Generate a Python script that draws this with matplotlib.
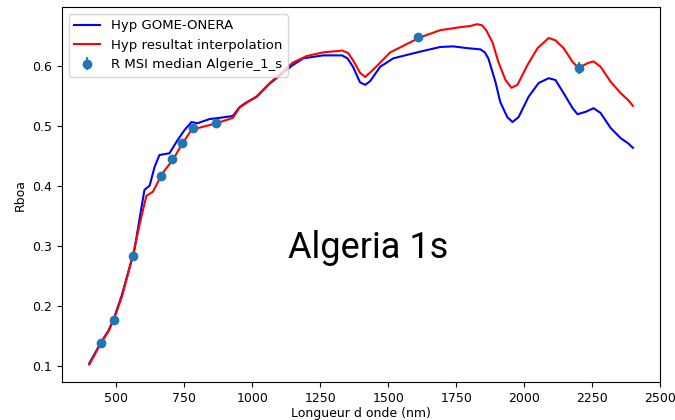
import matplotlib.pyplot as plt

# Hyp GOME-ONERA (blue)
gome_wl = [400, 443, 470, 490, 520, 566, 585, 603, 622, 640, 658, 695, 725, 751, 776, 798,
           843, 880, 928, 953, 979, 1016, 1064, 1149, 1187, 1260, 1330, 1350, 1370, 1396, 1415,
           1433, 1470, 1518, 1606, 1691, 1739, 1791, 1839, 1855, 1868, 1894, 1912, 1938, 1957,
           1979, 2016, 2053, 2090, 2115, 2145, 2178, 2196, 2226, 2255, 2281, 2318, 2355,
           2381, 2400]
gome_val = [0.104, 0.139, 0.158, 0.178, 0.218, 0.293, 0.345, 0.393, 0.400, 0.431, 0.451, 0.454,
            0.476, 0.493, 0.506, 0.504, 0.511, 0.513, 0.516, 0.531, 0.539, 0.548, 0.570,
            0.601, 0.612, 0.617, 0.617, 0.612, 0.598, 0.572, 0.568, 0.574, 0.598, 0.612, 0.622,
            0.631, 0.632, 0.629, 0.627, 0.622, 0.612, 0.573, 0.539, 0.514, 0.506, 0.514, 0.548,
            0.571, 0.579, 0.576, 0.554, 0.529, 0.519, 0.523, 0.529, 0.521, 0.496, 0.479,
            0.471, 0.463]

# Hyp resultat interpolation (red)
interp_wl = [400, 443, 470, 490, 520, 560, 590, 610, 634, 670, 707, 744, 776, 817, 869, 928,
             953, 979, 1016, 1064, 1149, 1200, 1260, 1330, 1352, 1370, 1396, 1415, 1444, 1507,
             1617, 1691, 1765, 1802, 1827, 1845, 1860, 1883, 1905, 1931, 1953, 1975, 2012, 2049,
             2090, 2115, 2145, 2178, 2200, 2233, 2255, 2281, 2318, 2355, 2381, 2400]
interp_val = [0.102, 0.138, 0.157, 0.177, 0.215, 0.283, 0.345, 0.383, 0.390, 0.421, 0.443,
              0.471, 0.493, 0.498, 0.504, 0.513, 0.530, 0.538, 0.549, 0.571, 0.605, 0.616,
              0.622, 0.625, 0.621, 0.609, 0.588, 0.581, 0.593, 0.622, 0.647, 0.659, 0.664, 0.666,
              0.669, 0.667, 0.659, 0.639, 0.606, 0.576, 0.563, 0.568, 0.601, 0.629, 0.646, 0.642,
              0.629, 0.606, 0.596, 0.604, 0.607, 0.598, 0.573, 0.554, 0.543, 0.533]

# R MSI median Algerie_1_s
msi_wl = [443, 490, 560, 665, 705, 740, 783, 865, 1610, 2200]
msi_val = [0.138, 0.177, 0.283, 0.416, 0.444, 0.471, 0.496, 0.504, 0.647, 0.596]
msi_err = [0.003, 0.003, 0.003, 0.003, 0.003, 0.003, 0.003, 0.003, 0.003, 0.010]

fig = plt.figure(figsize=(6.75, 4.2), dpi=100)
ax = fig.add_axes([0.092, 0.0905, 0.886, 0.892])

ax.plot(gome_wl, gome_val, color='blue', lw=1.5, label='Hyp GOME-ONERA')
ax.plot(interp_wl, interp_val, color='red', lw=1.5, label='Hyp resultat interpolation')
ax.errorbar(msi_wl, msi_val, yerr=msi_err, fmt='o', color='#1f77b4', ecolor='#2ca02c',
            markersize=6, label='R MSI median Algerie_1_s')

ax.set_xlim(300, 2500)
ax.set_ylim(0.073, 0.697)
ax.tick_params(labelsize=9)
ax.set_xlabel('Longueur d onde (nm)', fontsize=9, labelpad=2)
ax.set_ylabel('Rboa', fontsize=9)
ax.legend(loc='upper left', fontsize=9.5)

fig.text(0.545, 0.41, 'Algeria 1s', family='Roboto', fontsize=26, ha='center', va='center')

plt.savefig('out.png')
